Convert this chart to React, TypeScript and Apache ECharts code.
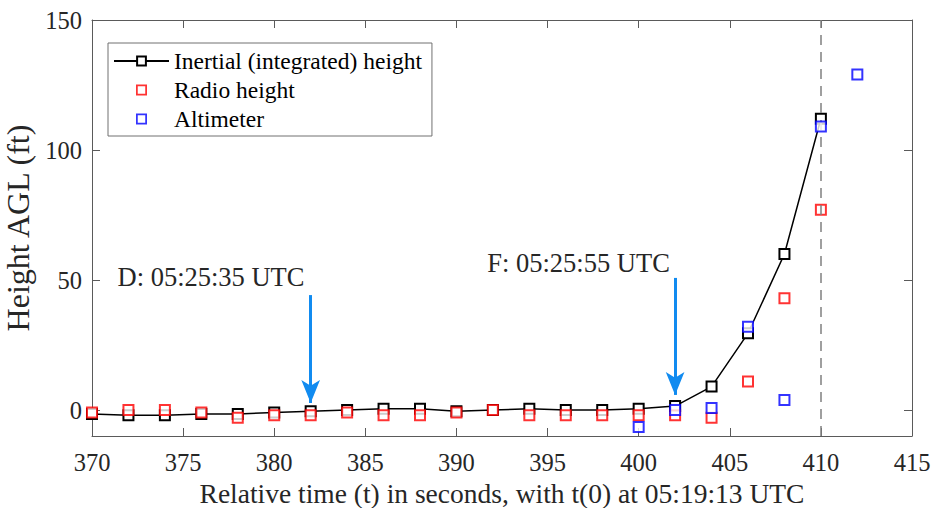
import React, { useEffect, useRef } from "react";
import * as echarts from "echarts";

const times = [370, 372, 374, 376, 378, 380, 382, 384, 386, 388, 390, 392, 394, 396, 398, 400, 402, 404, 406, 408, 410];
const inertial = [-1.5, -2, -2, -1.5, -1.5, -1, -0.5, 0, 0.5, 0.5, -0.5, 0, 0.5, 0, 0, 0.5, 1.5, 9, 29.5, 60, 112];
const radio = [-1, 0, 0, -1, -3, -2, -2, -1, -2, -2, -1, 0, -2, -2, -2, -2, -2, -3, 11, 43, 77];
const altTimes = [400, 402, 404, 406, 408, 410, 412];
const altimeter = [-6.5, 0, 0.8, 32, 3.8, 109, 129];
const xTicks = [370, 375, 380, 385, 390, 395, 400, 405, 410, 415];
const yTicks = [0, 50, 100, 150];
const seriesNames = ["Inertial (integrated) height", "Radio height", "Altimeter"];
const events = [
  { label: "D: 05:25:35 UTC", t: 382, textX: 376.53, textY: 51.2, top: 44.2, tip: 2.7 },
  { label: "F: 05:25:55 UTC", t: 402, textX: 396.7, textY: 56.5, top: 50.8, tip: 5.8 },
];
const touchdown = 410;

const FONT = "Liberation Serif";
const TXT = "#262626";
const AXIS = "#5a5a5a";
const SQUARE_ICON = "path://M0,0H10V10H0ZM1.6,1.6V8.4H8.4V1.6Z";

export default function App() {
  const ref = useRef<HTMLDivElement>(null);
  useEffect(() => {
    if (!ref.current) return;
    const chart = echarts.init(ref.current, null, { renderer: "svg" });
    const axisLine = { show: true, onZero: false, lineStyle: { color: AXIS, width: 1 } };
    chart.setOption({
      animation: false,
      backgroundColor: "#ffffff",
      textStyle: { fontFamily: FONT },
      grid: { left: 92, right: 21, top: 20, bottom: 72, show: false, containLabel: false, outerBoundsMode: "none" },
      legend: {
        data: [
          { name: seriesNames[0] },
          { name: seriesNames[1], icon: SQUARE_ICON, itemStyle: { borderWidth: 0 } },
          { name: seriesNames[2], icon: SQUARE_ICON, itemStyle: { borderWidth: 0 } },
        ],
        orient: "vertical",
        left: 108,
        top: 43,
        padding: [6, 10, 5, 5],
        itemWidth: 55,
        itemHeight: 11,
        itemGap: 5,
        symbolKeepAspect: true,
        backgroundColor: "#ffffff",
        borderColor: "#707070",
        borderWidth: 1,
        borderRadius: 0,
        textStyle: { fontFamily: FONT, fontSize: 23.5, color: "#000" },
      },
      xAxis: [
        {
          type: "value",
          min: 370,
          max: 415,
          interval: 5,
          axisLine,
          splitLine: { show: false },
          axisTick: { show: true, inside: true, length: 8, lineStyle: { color: AXIS } },
          axisLabel: { fontFamily: FONT, fontSize: 24.5, color: TXT, margin: 14, customValues: xTicks },
          name: "Relative time (t) in seconds, with t(0) at 05:19:13 UTC",
          nameLocation: "middle",
          nameGap: 40,
          nameTextStyle: { fontFamily: FONT, fontSize: 27.5, color: TXT },
        },
        {
          type: "value",
          position: "top",
          min: 370,
          max: 415,
          interval: 5,
          axisLine,
          splitLine: { show: false },
          axisTick: { show: true, inside: true, length: 8, lineStyle: { color: AXIS } },
          axisLabel: { show: false },
        },
      ],
      yAxis: [
        {
          type: "value",
          min: -10,
          max: 150,
          axisLine,
          splitLine: { show: false },
          axisTick: { show: true, inside: true, length: 8, customValues: yTicks, lineStyle: { color: AXIS } },
          axisLabel: { fontFamily: FONT, fontSize: 24.5, color: TXT, margin: 10, customValues: yTicks },
          name: "Height AGL (ft)",
          nameLocation: "middle",
          nameGap: 52,
          nameTextStyle: { fontFamily: FONT, fontSize: 32, color: TXT },
        },
        {
          type: "value",
          position: "right",
          min: -10,
          max: 150,
          axisLine,
          splitLine: { show: false },
          axisTick: { show: true, inside: true, length: 8, customValues: yTicks, lineStyle: { color: AXIS } },
          axisLabel: { show: false },
        },
      ],
      series: [
        {
          name: seriesNames[0],
          type: "line",
          data: times.map((t, i) => [t, inertial[i]]),
          symbol: "emptyRect",
          symbolSize: 10,
          lineStyle: { color: "#000000", width: 1.5 },
          itemStyle: { color: "#000000", borderColor: "#000000", borderWidth: 1.5 },
          z: 3,
        },
        {
          name: seriesNames[1],
          type: "scatter",
          data: times.map((t, i) => [t, radio[i]]),
          symbol: "emptyRect",
          symbolSize: 10,
          itemStyle: { color: "#ff0000", borderColor: "#ff0000", borderWidth: 1.5 },
          z: 4,
        },
        {
          name: seriesNames[2],
          type: "scatter",
          data: altTimes.map((t, i) => [t, altimeter[i]]),
          symbol: "emptyRect",
          symbolSize: 10,
          itemStyle: { color: "#0000ff", borderColor: "#0000ff", borderWidth: 1.5 },
          z: 5,
        },
        {
          name: "touchdown",
          type: "line",
          data: [],
          silent: true,
          markLine: {
            silent: true,
            symbol: ["none", "none"],
            label: { show: false },
            lineStyle: { color: "#808080", type: [10, 7], width: 1.5 },
            data: [{ xAxis: touchdown }],
          },
        },
        {
          name: "events",
          type: "line",
          data: [],
          silent: true,
          markLine: {
            silent: true,
            symbol: ["none", "arrow"],
            symbolSize: [14, 23],
            label: { show: false },
            lineStyle: { color: "#118bf0", type: "solid", width: 3 },
            itemStyle: { color: "#118bf0" },
            data: events.map((e) => [{ coord: [e.t, e.top] }, { coord: [e.t, e.tip] }]),
          },
          markPoint: {
            silent: true,
            symbol: "rect",
            symbolSize: 1,
            itemStyle: { color: "rgba(0,0,0,0)" },
            label: {
              show: true,
              position: "inside",
              fontFamily: FONT,
              fontSize: 26.5,
              color: TXT,
              formatter: (p: any) => p.name,
            },
            data: events.map((e) => ({ name: e.label, coord: [e.textX, e.textY] })),
          },
        },
      ],
    });
    return () => chart.dispose();
  }, []);
  return (
    <div
      ref={ref}
      style={{ position: "absolute", left: 0, top: 0, width: 933, height: 508 }}
    />
  );
}
